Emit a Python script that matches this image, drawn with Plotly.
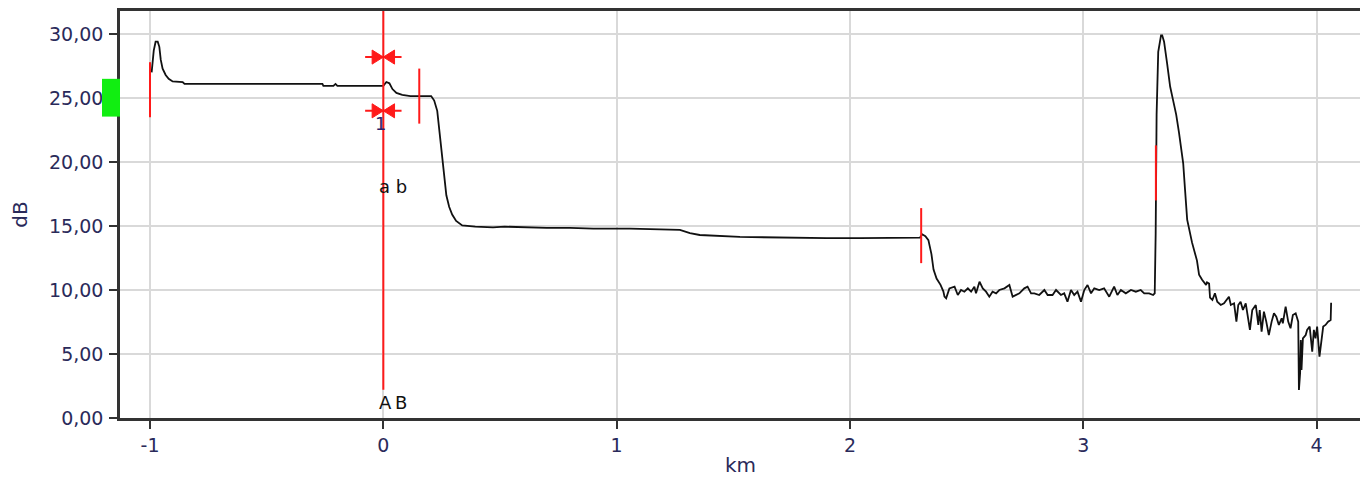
import plotly.graph_objects as go

# ---------------- data (km, dB) ----------------
trace_km = [
    -0.993, -0.984, -0.976, -0.967, -0.960, -0.954, -0.946, -0.933, -0.920, -0.903,
    -0.860, -0.852, -0.261, -0.257, -0.214, -0.205, -0.197, 0.000, 0.013, 0.026,
    0.039, 0.056, 0.081, 0.116, 0.205, 0.218, 0.231, 0.244, 0.257, 0.270,
    0.282, 0.295, 0.312, 0.338, 0.394, 0.470, 0.520, 0.586, 0.650, 0.700,
    0.800, 0.900, 1.057, 1.185, 1.271, 1.314, 1.356, 1.528, 1.650, 1.784,
    1.900, 2.041, 2.200, 2.300, 2.310, 2.323, 2.336, 2.349, 2.358, 2.371,
    2.388, 2.400,
    2.405, 2.412, 2.426, 2.448, 2.462, 2.476, 2.490, 2.505, 2.519, 2.533,
    2.540, 2.555, 2.569, 2.583, 2.597, 2.611, 2.626, 2.640, 2.662, 2.683,
    2.697, 2.712, 2.726, 2.747, 2.761, 2.776, 2.790, 2.811, 2.833, 2.847,
    2.868, 2.883, 2.904, 2.918, 2.932, 2.947, 2.961, 2.975, 2.990, 3.004,
    3.018, 3.033, 3.047, 3.068, 3.089, 3.111, 3.132, 3.146, 3.161, 3.182,
    3.204, 3.225, 3.246, 3.261, 3.282, 3.299, 3.306,
    3.310, 3.312, 3.314, 3.321, 3.333, 3.338, 3.346, 3.359, 3.372, 3.385,
    3.398, 3.410, 3.419, 3.428, 3.436, 3.445, 3.466, 3.487, 3.496, 3.509,
    3.526, 3.530, 3.539, 3.543,
    3.553, 3.564, 3.574, 3.589, 3.603, 3.613, 3.624, 3.632, 3.646, 3.656,
    3.664, 3.674, 3.684, 3.696, 3.703, 3.714, 3.724, 3.739, 3.750, 3.756,
    3.764, 3.774, 3.784, 3.795, 3.807, 3.817, 3.827, 3.838, 3.850, 3.855,
    3.867, 3.878, 3.888, 3.898, 3.910, 3.921, 3.924, 3.929, 3.932, 3.935,
    3.941, 3.953, 3.959, 3.970, 3.981, 3.988, 3.995, 4.002, 4.012, 4.021,
    4.028, 4.038, 4.049, 4.060, 4.062,
]
trace_db = [
    27.0, 28.7, 29.4, 29.4, 29.0, 28.0, 27.3, 26.8, 26.5, 26.3,
    26.25, 26.1, 26.1, 25.95, 25.95, 26.1, 25.95, 25.95, 26.25, 26.15,
    25.7, 25.4, 25.25, 25.15, 25.15, 24.8, 24.0, 21.7, 19.2, 17.4,
    16.5, 15.9, 15.4, 15.05, 14.95, 14.9, 14.95, 14.9, 14.85, 14.85,
    14.85, 14.8, 14.8, 14.75, 14.7, 14.45, 14.3, 14.15, 14.1, 14.1,
    14.05, 14.05, 14.1, 14.1, 14.35, 14.2, 13.9, 12.8, 11.6, 10.9,
    10.4, 9.9,
    9.48, 9.35, 10.13, 10.26, 9.61, 10.0, 9.87, 10.13, 9.87, 10.26,
    9.74, 10.65, 10.13, 9.87, 9.48, 9.87, 9.74, 10.0, 10.13, 10.39,
    9.48, 9.61, 9.74, 10.13, 10.26, 9.74, 9.74, 9.61, 10.0, 9.61,
    9.61, 10.0, 9.61, 9.74, 9.09, 10.0, 9.61, 9.87, 9.09, 10.0,
    10.39, 9.74, 10.13, 10.0, 10.13, 9.48, 10.26, 9.61, 10.0, 9.74,
    10.0, 9.87, 10.0, 9.74, 9.74, 9.61, 9.74,
    14.4, 19.0, 23.7, 28.6, 29.9, 29.9, 29.4, 27.7, 25.9, 24.8,
    23.7, 22.3, 20.9, 19.9, 17.8, 15.5, 13.7, 12.3, 11.2, 10.8,
    10.4, 10.6, 10.5, 9.4,
    9.22, 9.74, 9.09, 8.83, 8.96, 9.22, 9.48, 8.83, 8.96, 7.53,
    8.83, 9.09, 8.44, 8.96, 8.18, 6.88, 8.44, 8.83, 7.27, 8.44,
    6.74, 8.31, 7.53, 6.48, 7.53, 8.18, 7.92, 7.27, 7.79, 7.40,
    8.70, 7.53, 7.01, 8.05, 8.18, 7.53, 2.19, 3.5, 6.09, 3.75,
    6.22, 6.48, 6.88, 7.14, 5.18, 6.88, 6.22, 7.14, 4.79, 6.09,
    7.14, 7.27, 7.53, 7.66, 9.0,
]

# event markers (red vertical ticks)
event_km = [-1.0, 0.154, 2.305, 3.311]
event_low = [23.5, 23.0, 12.1, 17.0]
event_high = [27.8, 27.3, 16.4, 21.3]

# cursor A/B at 0 km
cursor_km = 0.0
cursor_bottom = 2.2
arrow_db = [28.2, 24.0]

# reference level band (green, left of axis)
green_band = [23.55, 26.5]

x_tickvals = [-1, 0, 1, 2, 3, 4]
x_ticktext = ["-1", "0", "1", "2", "3", "4"]
y_tickvals = [0, 5, 10, 15, 20, 25, 30]

x_range = [-1.1286, 4.19]
y_range = [0, 31.8]

FONT = "DejaVu Sans"
TICKCOL = "#2a2a5a"
RED = "#ff1a1a"

fig = go.Figure()
fig.add_trace(go.Scatter(x=trace_km, y=trace_db, mode="lines",
                         line=dict(color="#111111", width=1.8),
                         hoverinfo="skip", showlegend=False))

shapes = []
for xk, lo, hi in zip(event_km, event_low, event_high):
    shapes.append(dict(type="line", xref="x", yref="y", x0=xk, x1=xk, y0=lo, y1=hi,
                       line=dict(color=RED, width=2)))
# cursor line
shapes.append(dict(type="line", xref="x", yref="y", x0=cursor_km, x1=cursor_km,
                   y0=cursor_bottom, y1=y_range[1], line=dict(color=RED, width=2)))
# arrows
aw, ah, al = 0.048, 0.55, 0.078
for ya in arrow_db:
    shapes.append(dict(type="line", xref="x", yref="y", x0=cursor_km - al, x1=cursor_km + al,
                       y0=ya, y1=ya, line=dict(color=RED, width=2)))
    shapes.append(dict(type="path", xref="x", yref="y",
                       path=f"M {cursor_km - aw} {ya - ah} L {cursor_km} {ya} L {cursor_km - aw} {ya + ah} Z",
                       fillcolor=RED, line=dict(color=RED, width=1)))
    shapes.append(dict(type="path", xref="x", yref="y",
                       path=f"M {cursor_km + aw} {ya - ah} L {cursor_km} {ya} L {cursor_km + aw} {ya + ah} Z",
                       fillcolor=RED, line=dict(color=RED, width=1)))
# green band outside plot
shapes.append(dict(type="rect", xref="paper", yref="paper", x0=-0.0145, x1=0.0,
                   y0=green_band[0] / y_range[1], y1=green_band[1] / y_range[1],
                   fillcolor="#11ee11", line=dict(width=0)))

annotations = [
    dict(x=-0.013, y=23.0, xref="x", yref="y", text="1", showarrow=False,
         font=dict(family=FONT, size=18, color="#2a1f6b")),
    dict(x=0.043, y=18.1, xref="x", yref="y", text="a b", showarrow=False,
         font=dict(family=FONT, size=18, color="#111111")),
    dict(x=0.042, y=1.25, xref="x", yref="y", text="A\u2009B", showarrow=False,
         font=dict(family=FONT, size=18, color="#111111")),
]

# the page body adds an 8px offset; size/margins compensate so the plot
# area lands where the reference has it
fig.update_layout(
    width=1360, height=469,
    margin=dict(l=112, r=7, t=3, b=59),
    paper_bgcolor="white", plot_bgcolor="white",
    separators=",.",
    shapes=shapes, annotations=annotations,
    showlegend=False,
    font=dict(family=FONT, size=19, color=TICKCOL),
)
fig.update_xaxes(range=x_range, tickvals=x_tickvals, ticktext=x_ticktext,
                 showgrid=True, gridcolor="#d9d9d9", gridwidth=1.5,
                 showline=True, linecolor="#333333", linewidth=2.5, mirror=True,
                 ticks="outside", ticklen=8, tickwidth=2, tickcolor="#333333",
                 tickfont=dict(family=FONT, size=19, color=TICKCOL),
                 ticklabelstandoff=0,
                 title=dict(text="km", font=dict(family=FONT, size=20, color=TICKCOL), standoff=12),
                 zeroline=False, automargin=False)
fig.update_yaxes(range=y_range, tickvals=y_tickvals, tickformat=".2f",
                 showgrid=True, gridcolor="#d9d9d9", gridwidth=1.5,
                 showline=True, linecolor="#333333", linewidth=2.5, mirror=True,
                 ticks="outside", ticklen=8, tickwidth=2, tickcolor="#333333",
                 tickfont=dict(family=FONT, size=19, color=TICKCOL),
                 ticklabelstandoff=2,
                 title=dict(text="dB", font=dict(family=FONT, size=20, color=TICKCOL), standoff=18),
                 zeroline=False, automargin=False)

fig.write_html("out.html")
